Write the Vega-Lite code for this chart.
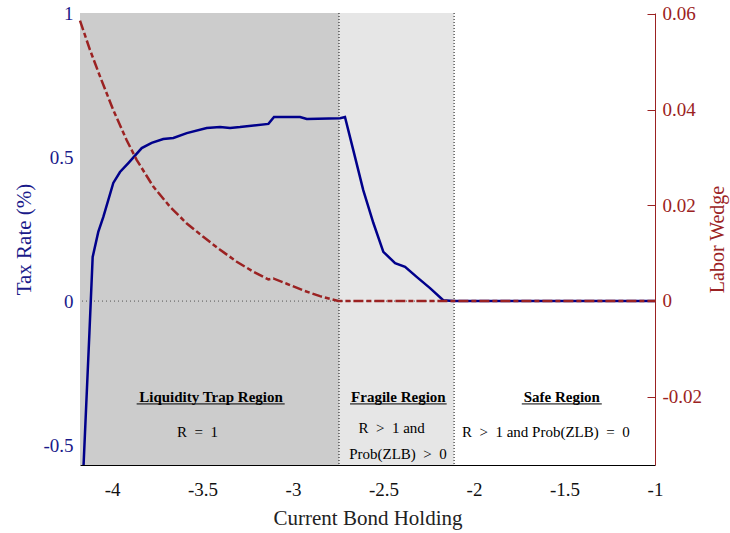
{
  "$schema": "https://vega.github.io/schema/vega-lite/v6.json",
  "width": 575,
  "height": 452,
  "autosize": {"type": "none"},
  "padding": {"left": 80, "top": 13, "right": 75, "bottom": 68},
  "background": "white",
  "config": {"view": {"stroke": null}, "font": "Liberation Serif"},
  "datasets": {
    "regions": [
      {"x": -4.177, "x2": -2.746, "region": "trap"},
      {"x": -2.746, "x2": -2.11, "region": "fragile"}
    ],
    "bounds": [{"x": -2.746}, {"x": -2.11}],
    "zero": [{"t": 0}],
    "titles": [
      {"x": -3.453, "t": -0.333, "label": "Liquidity Trap Region"},
      {"x": -2.418, "t": -0.333, "label": "Fragile Region"},
      {"x": -1.515, "t": -0.333, "label": "Safe Region"}
    ],
    "underlines": [
      {"x": -3.864, "x2": -3.046, "t": -0.357},
      {"x": -2.685, "x2": -2.151, "t": -0.357},
      {"x": -1.736, "x2": -1.294, "t": -0.357}
    ],
    "notes": [
      {"x": -3.528, "t": -0.454, "label": "R\u2002=\u20021"},
      {"x": -2.455, "t": -0.441, "label": "R\u2002>\u20021 and"},
      {"x": -2.42, "t": -0.531, "label": "Prob(ZLB)\u2002>\u20020"},
      {"x": -1.603, "t": -0.454, "label": "R\u2002>\u20021 and Prob(ZLB)\u2002=\u20020"}
    ],
    "tax": [
      {"x": -4.17, "t": -0.75}, {"x": -4.125, "t": -0.111}, {"x": -4.107, "t": 0.153},
      {"x": -4.076, "t": 0.24}, {"x": -4.048, "t": 0.292}, {"x": -3.993, "t": 0.41},
      {"x": -3.956, "t": 0.448}, {"x": -3.91, "t": 0.479}, {"x": -3.836, "t": 0.531},
      {"x": -3.781, "t": 0.549}, {"x": -3.717, "t": 0.5625}, {"x": -3.661, "t": 0.566},
      {"x": -3.587, "t": 0.583}, {"x": -3.477, "t": 0.601}, {"x": -3.403, "t": 0.604},
      {"x": -3.348, "t": 0.601}, {"x": -3.293, "t": 0.604}, {"x": -3.136, "t": 0.615},
      {"x": -3.105, "t": 0.639}, {"x": -2.961, "t": 0.639}, {"x": -2.924, "t": 0.632},
      {"x": -2.74, "t": 0.635}, {"x": -2.713, "t": 0.639}, {"x": -2.667, "t": 0.524},
      {"x": -2.612, "t": 0.385}, {"x": -2.556, "t": 0.271}, {"x": -2.501, "t": 0.171},
      {"x": -2.436, "t": 0.132}, {"x": -2.381, "t": 0.119}, {"x": -2.317, "t": 0.084},
      {"x": -2.243, "t": 0.045}, {"x": -2.17, "t": 0.003}, {"x": -2.114, "t": 0},
      {"x": -1, "t": 0}
    ],
    "wedge": [
      {"x": -4.177, "w": 0.0586}, {"x": -4.122, "w": 0.0525}, {"x": -4.066, "w": 0.0469},
      {"x": -3.993, "w": 0.0399}, {"x": -3.919, "w": 0.0336}, {"x": -3.864, "w": 0.0295},
      {"x": -3.772, "w": 0.0239}, {"x": -3.68, "w": 0.0197}, {"x": -3.587, "w": 0.0162},
      {"x": -3.496, "w": 0.0134}, {"x": -3.403, "w": 0.0107}, {"x": -3.311, "w": 0.0082},
      {"x": -3.219, "w": 0.0061}, {"x": -3.136, "w": 0.0045}, {"x": -3.109, "w": 0.0047},
      {"x": -3.035, "w": 0.0036}, {"x": -2.943, "w": 0.0022}, {"x": -2.851, "w": 0.001},
      {"x": -2.75, "w": 0}, {"x": -1, "w": 0}
    ]
  },
  "layer": [
    {
      "data": {"name": "regions"},
      "mark": {"type": "rect"},
      "encoding": {
        "x": {"field": "x", "type": "quantitative", "scale": {"domain": [-4.177, -1], "nice": false, "zero": false}},
        "x2": {"field": "x2"},
        "color": {"field": "region", "type": "nominal", "scale": {"domain": ["trap", "fragile"], "range": ["#CCCCCC", "#E6E6E6"]}, "legend": null}
      }
    },
    {
      "layer": [
        {
          "data": {"name": "zero"},
          "mark": {"type": "rule", "color": "#555555", "strokeDash": [1, 3], "strokeWidth": 1},
          "encoding": {
            "y": {"field": "t", "type": "quantitative", "scale": {"domain": [-0.569, 1], "nice": false, "zero": false}}
          }
        },
        {
          "data": {"name": "bounds"},
          "mark": {"type": "rule", "color": "#111111", "strokeDash": [1, 2], "strokeWidth": 1},
          "encoding": {
            "x": {"field": "x", "type": "quantitative", "scale": {"domain": [-4.177, -1], "nice": false, "zero": false}}
          }
        },
        {
          "data": {"name": "underlines"},
          "mark": {"type": "rule", "color": "#000000", "strokeWidth": 1},
          "encoding": {
            "x": {"field": "x", "type": "quantitative", "scale": {"domain": [-4.177, -1], "nice": false, "zero": false}},
            "x2": {"field": "x2"},
            "y": {"field": "t", "type": "quantitative", "scale": {"domain": [-0.569, 1], "nice": false, "zero": false}}
          }
        },
        {
          "data": {"name": "titles"},
          "mark": {"type": "text", "font": "Liberation Serif", "fontSize": 15, "fontWeight": "bold", "color": "#000000", "baseline": "middle", "align": "center"},
          "encoding": {
            "x": {"field": "x", "type": "quantitative", "scale": {"domain": [-4.177, -1], "nice": false, "zero": false}},
            "y": {"field": "t", "type": "quantitative", "scale": {"domain": [-0.569, 1], "nice": false, "zero": false}},
            "text": {"field": "label"}
          }
        },
        {
          "data": {"name": "notes"},
          "mark": {"type": "text", "font": "Liberation Serif", "fontSize": 15, "color": "#000000", "baseline": "middle", "align": "center"},
          "encoding": {
            "x": {"field": "x", "type": "quantitative", "scale": {"domain": [-4.177, -1], "nice": false, "zero": false}},
            "y": {"field": "t", "type": "quantitative", "scale": {"domain": [-0.569, 1], "nice": false, "zero": false}},
            "text": {"field": "label"}
          }
        },
        {
          "data": {"name": "tax"},
          "mark": {"type": "line", "color": "#00008B", "strokeWidth": 2.5, "clip": true},
          "encoding": {
            "x": {
              "field": "x", "type": "quantitative",
              "scale": {"domain": [-4.177, -1], "nice": false, "zero": false},
              "axis": {
                "orient": "bottom", "values": [-4, -3.5, -3, -2.5, -2, -1.5, -1],
                "labelExpr": "'' + datum.value", "title": "Current Bond Holding",
                "titleFont": "Liberation Serif", "titleFontSize": 21, "titleFontWeight": "normal", "titleColor": "#222222",
                "labelFont": "Liberation Serif", "labelFontSize": 19, "labelColor": "#111111",
                "labelPadding": 15, "titlePadding": 8, "ticks": false, "tickSize": 0,
                "domain": true, "domainColor": "#000000", "grid": false, "labelOverlap": false, "labelFlush": false
              }
            },
            "y": {
              "field": "t", "type": "quantitative",
              "scale": {"domain": [-0.569, 1], "nice": false, "zero": false},
              "axis": {
                "orient": "left", "values": [-0.5, 0, 0.5, 1],
                "labelExpr": "'' + datum.value", "title": "Tax Rate (%)",
                "titleFont": "Liberation Serif", "titleFontSize": 21, "titleFontWeight": "normal", "titleColor": "#1a1a8a",
                "labelFont": "Liberation Serif", "labelFontSize": 19, "labelColor": "#1a1a8a",
                "labelPadding": 7, "titlePadding": 8, "ticks": false, "tickSize": 0,
                "domain": false, "grid": false, "labelOverlap": false, "labelFlush": false
              }
            }
          }
        }
      ]
    },
    {
      "data": {"name": "wedge"},
      "mark": {"type": "line", "color": "#9B2222", "strokeWidth": 2.5, "strokeDash": [10, 3, 5, 3]},
      "encoding": {
        "x": {"field": "x", "type": "quantitative", "scale": {"domain": [-4.177, -1], "nice": false, "zero": false}},
        "y": {
          "field": "w", "type": "quantitative",
          "scale": {"domain": [-0.0343, 0.0602], "nice": false, "zero": false},
          "axis": {
            "orient": "right", "values": [-0.02, 0, 0.02, 0.04, 0.06],
            "labelExpr": "'' + datum.value", "title": "Labor Wedge",
            "titleFont": "Liberation Serif", "titleFontSize": 20, "titleFontWeight": "normal", "titleColor": "#9B2222",
            "titleAngle": 270, "titleBaseline": "top",
            "labelFont": "Liberation Serif", "labelFontSize": 19, "labelColor": "#9B2222",
            "ticks": true, "tickSize": -8, "tickColor": "#9B2222", "labelPadding": 15, "titlePadding": 6,
            "domain": true, "domainColor": "#9B2222", "grid": false, "labelOverlap": false, "labelFlush": false
          }
        }
      }
    }
  ],
  "resolve": {"scale": {"y": "independent"}, "axis": {"y": "independent"}}
}
